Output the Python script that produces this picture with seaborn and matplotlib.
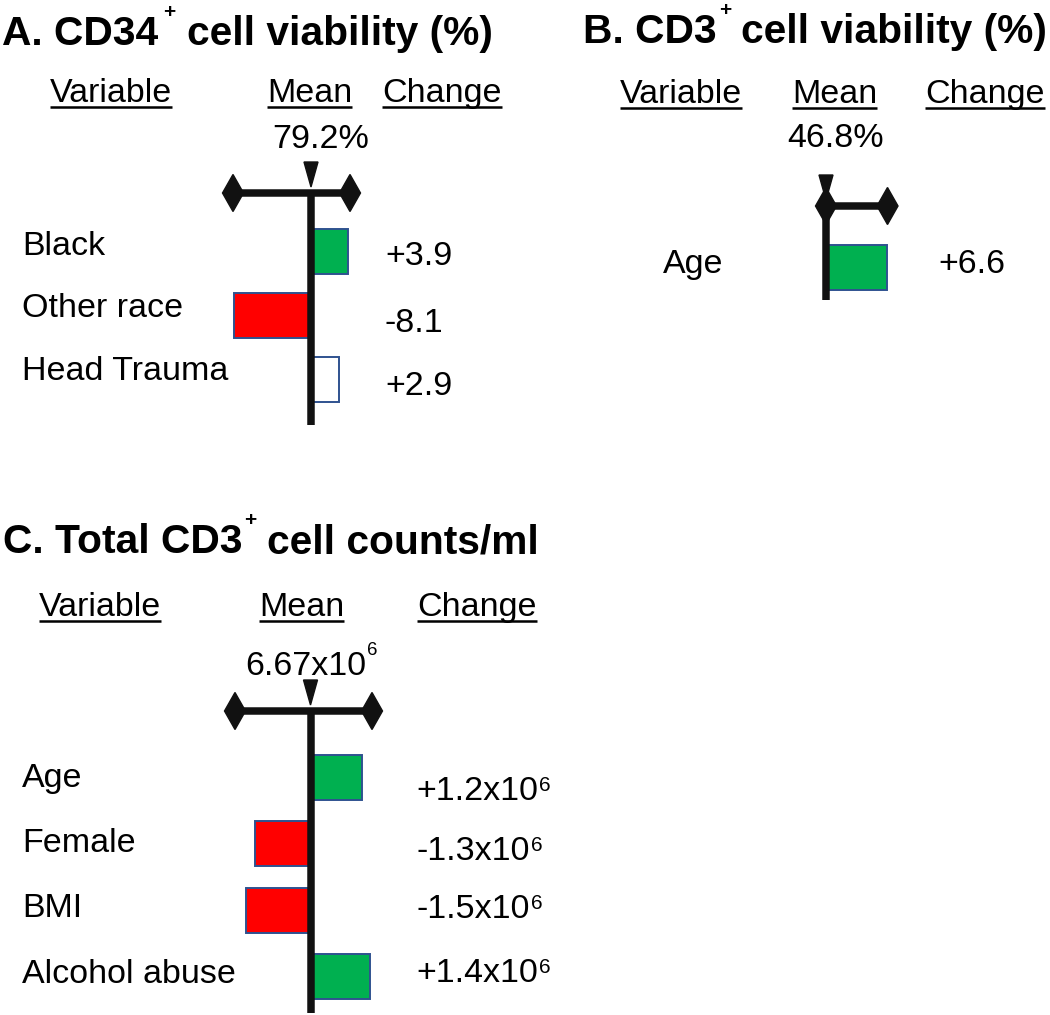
import matplotlib
matplotlib.use("Agg")
import matplotlib.pyplot as plt
import seaborn as sns
import pandas as pd
from matplotlib.patches import Polygon

# ---------------- data ----------------
a_title = ("A. CD34", "+", " cell viability (%)")
a_vars = ["Black", "Other race", "Head Trauma"]
a_change = [3.9, -8.1, 2.9]
a_change_labels = ["+3.9", "-8.1", "+2.9"]
a_mean = "79.2%"

b_title = ("B. CD3", "+", " cell viability (%)")
b_vars = ["Age"]
b_change = [6.6]
b_change_labels = ["+6.6"]
b_mean = "46.8%"

c_title = ("C. Total CD3", "+", " cell counts/ml")
c_vars = ["Age", "Female", "BMI", "Alcohol abuse"]
c_change = [1.2e6, -1.3e6, -1.5e6, 1.4e6]
c_change_labels = ["+1.2x10", "-1.3x10", "-1.5x10", "+1.4x10"]
c_change_sup = "6"
c_mean = "6.67x10"
c_mean_sup = "6"

headers = ["Variable", "Mean", "Change"]

# ---------------- style ----------------
GREEN = "#00B050"
RED = "#FF0000"
WHITE = "#FFFFFF"
EDGE = "#2F528F"
INK = "#111111"
a_colors = [GREEN, RED, WHITE]
b_colors = [GREEN]
c_colors = [GREEN, RED, RED, GREEN]

W, H = 1050, 1015
sns.set_style("white")
plt.rcParams["font.family"] = ["Liberation Sans", "DejaVu Sans"]
FS = 24.5
TFS = 29.3

fig = plt.figure(figsize=(W / 100, H / 100), dpi=100)
fig.patch.set_facecolor("white")


def bar_panel(cats, vals, colors, x0, ppu, row0, rs, width):
    ax = fig.add_axes([0, 0, 1, 1])
    ax.patch.set_alpha(0)
    df = pd.DataFrame({"var": cats, "change": vals})
    sns.barplot(data=df, x="change", y="var", hue="var",
                palette=dict(zip(cats, colors)), saturation=1, orient="h",
                width=width, edgecolor=EDGE, linewidth=1.4, legend=False,
                dodge=False, errorbar=None, ax=ax)
    ax.set_xlim((0 - x0) / ppu, (W - x0) / ppu)
    ax.set_ylim((H - row0) / rs, (0 - row0) / rs)
    ax.set_axis_off()
    return ax


# bars (data-driven)
bar_panel(a_vars, a_change, a_colors, x0=311, ppu=9.5, row0=251.5, rs=64, width=0.70)
bar_panel(b_vars, b_change, b_colors, x0=826, ppu=9.24, row0=267.5, rs=64, width=0.70)
bar_panel(c_vars, c_change, c_colors, x0=310.5, ppu=42.8e-6, row0=777.5, rs=66.3, width=0.68)

# overlay for text and decorations in pixel coordinates
ov = fig.add_axes([0, 0, 1, 1])
ov.patch.set_alpha(0)
ov.set_xlim(0, W)
ov.set_ylim(H, 0)
ov.set_axis_off()
renderer = fig.canvas.get_renderer()


def txt(x, y, s, size=FS, weight="normal"):
    return ov.text(x, y, s, fontsize=size, fontweight=weight, ha="left",
                   va="baseline", color="black")


def right_edge(t):
    return t.get_window_extent(renderer).x1


def title(x, y, parts, sup_x, rest_x):
    txt(x, y, parts[0], TFS, "bold")
    txt(sup_x, y - 27, parts[1], 15, "bold")
    txt(rest_x, y, parts[2].lstrip(), TFS, "bold")


def header(xs, y):
    for x, s in zip(xs, headers):
        t = txt(x, y, s)
        bb = t.get_window_extent(renderer)
        ov.plot([bb.x0, bb.x1], [y + 5, y + 5], color="black", lw=1.8,
                solid_capstyle="butt")


def with_sup(x, y, main, sup, sup_dy, sup_size):
    t = txt(x, y, main)
    txt(right_edge(t) + 1, y - sup_dy, sup, sup_size)


def bracket(x0, y, xl, xr, y_bottom):
    ov.plot([xl, xr], [y, y], color=INK, lw=5.4, solid_capstyle="butt", zorder=3)
    ov.plot([x0, x0], [y - 3.5, y_bottom], color=INK, lw=5.4,
            solid_capstyle="butt", zorder=3)
    for xc in (xl, xr):
        ov.add_patch(Polygon([(xc - 10.5, y), (xc, y - 18.5), (xc + 10.5, y),
                              (xc, y + 18.5)], closed=True, color=INK, zorder=4))
    ov.add_patch(Polygon([(x0 - 7, y - 31), (x0 + 7, y - 31), (x0, y - 6)],
                         closed=True, color=INK, zorder=4))


# ---------- Panel A ----------
title(2, 45, a_title, 163, 187)
header([50, 267, 382], 102)
txt(272, 148, a_mean)
bracket(311, 193, 233, 350, 425)
for s, yb in zip(a_vars, [255, 317, 380]):
    txt(22, yb, s)
for s, yb in zip(a_change_labels, [265, 332, 395]):
    txt(385, yb, s)

# ---------- Panel B ----------
title(583, 43, b_title, 719, 741)
header([620, 792, 925], 103)
txt(787, 147, b_mean)
bracket(826, 206, 826, 887.5, 300)
for s, yb in zip(b_vars, [273]):
    txt(663, yb, s)
for s, yb in zip(b_change_labels, [273]):
    txt(938, yb, s)

# ---------- Panel C ----------
title(3, 553, c_title, 244, 267)
header([39, 259, 417], 616)
with_sup(245, 675, c_mean, c_mean_sup, 20, 13.5)
bracket(310.5, 711, 235, 372, 1013)
for s, yb in zip(c_vars, [787, 852, 917, 983]):
    txt(22, yb, s)
for s, yb in zip(c_change_labels, [800, 860, 918, 982]):
    with_sup(416, yb, s, c_change_sup, 9, 15)

fig.savefig("out.png", dpi=100, facecolor="white")
